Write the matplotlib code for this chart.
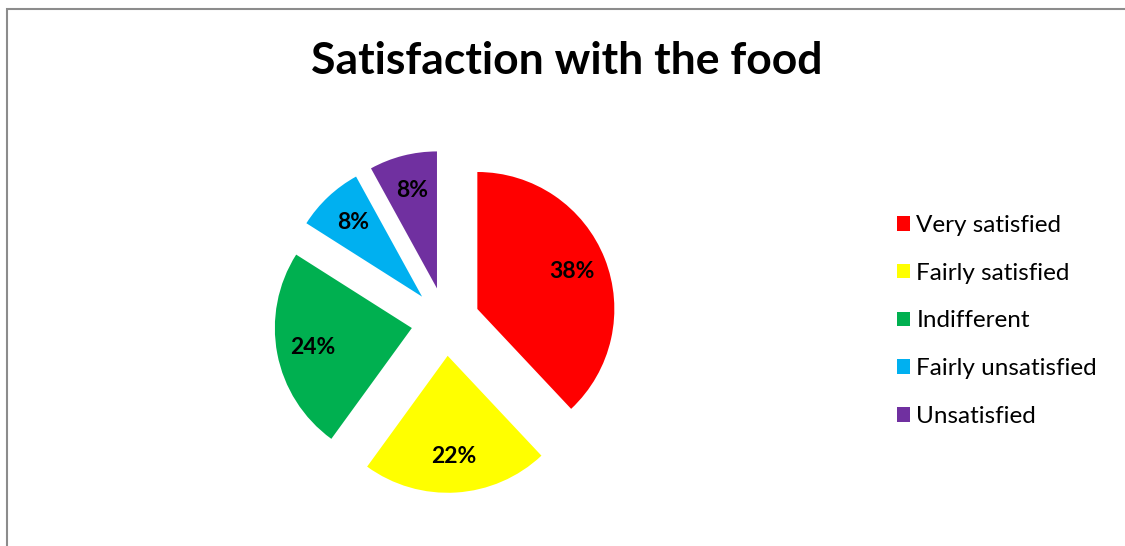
import matplotlib
matplotlib.use("Agg")
import matplotlib.pyplot as plt
from matplotlib.patches import Rectangle

plt.rcParams['font.family'] = ['Lato', 'DejaVu Sans']

# Survey answers (percent of respondents)
labels = ['Very satisfied', 'Fairly satisfied', 'Indifferent',
          'Fairly unsatisfied', 'Unsatisfied']
shares = [38, 22, 24, 8, 8]
colors = ['#ff0000', '#ffff00', '#00b050', '#00b0f0', '#7030a0']

W, H = 1125, 546
fig = plt.figure(figsize=(W / 100, H / 100), dpi=100)

# pie axes: 1 data unit = 137 px, centred at (445.5, 224.4) px
cx, cy, r_px = 445.5, 224.4, 137
half = 2 * r_px
ax = fig.add_axes([(cx - half) / W, (cy - half) / H, 2 * half / W, 2 * half / H])
wedges, texts, autotexts = ax.pie(
    shares, colors=colors, startangle=90, counterclock=False,
    explode=[0.25] * len(shares), radius=1,
    autopct='%1.0f%%', pctdistance=0.74,
    textprops=dict(fontsize=16.5, fontweight='bold', color='black'))
ax.set_xlim(-2, 2)
ax.set_ylim(-2, 2)
ax.set_aspect('equal')
ax.axis('off')

fig.text(567 / W, 1 - 61 / H, 'Satisfaction with the food',
         ha='center', va='center', fontsize=32, fontweight='bold')

fig.legend(wedges, labels, loc='upper left',
           bbox_to_anchor=(897 / W, 1 - 215 / H),
           frameon=False, fontsize=17.5, borderpad=0, borderaxespad=0,
           handlelength=0.55, handleheight=0.55, handletextpad=0.25,
           labelspacing=1.1)

# chart frame
fig.add_artist(Rectangle((6.5 / W, -0.1), 1.2, 1.1 - 8.5 / H,
                         transform=fig.transFigure, fill=False,
                         ec='#8c8c8c', lw=1.5))

fig.savefig('out.png', dpi=100)
